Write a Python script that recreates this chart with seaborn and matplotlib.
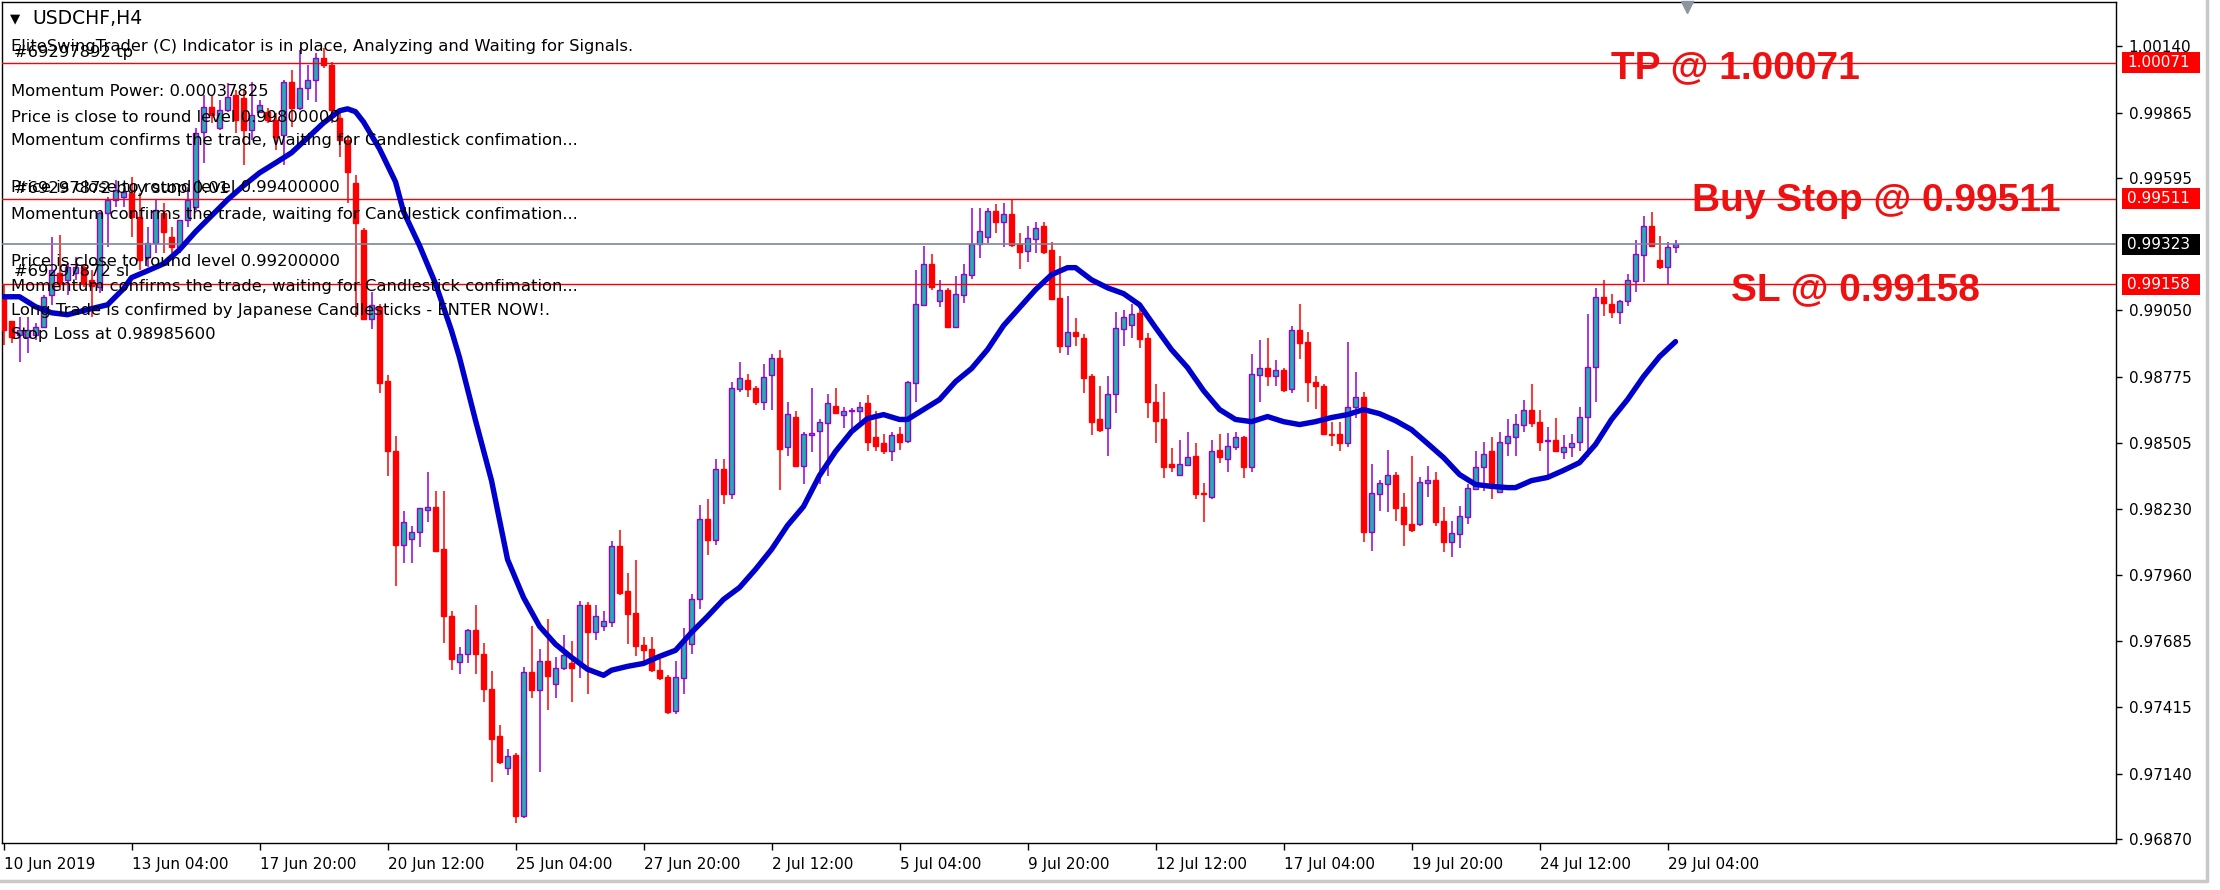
import numpy as np
import pandas as pd
import matplotlib
matplotlib.use("Agg")
import matplotlib.pyplot as plt
import matplotlib.transforms as mtransforms
from matplotlib.patches import Rectangle
from matplotlib.lines import Line2D
import seaborn as sns

# ---------------- data (USDCHF, H4) ----------------
opens = [0.99106,0.99004,0.98949,0.98941,0.98949,0.98983,0.99114,0.99206,0.99176,0.99206,
         0.99230,0.99176,0.99147,0.99453,0.99506,0.99518,0.99535,0.99436,0.99271,0.99329,
         0.99453,0.99353,0.99312,0.99424,0.99477,0.99786,0.99889,0.99803,0.99877,0.99938,
         0.99926,0.99794,0.99869,0.99869,0.99836,0.99774,0.99992,0.99885,0.99967,1.00000,
         1.00091,1.00062,0.99844,0.99753,0.99576,0.99382,0.99016,0.99063,0.98760,0.98468,
         0.98084,0.98109,0.98138,0.98225,0.98241,0.98064,0.97788,0.97599,0.97632,0.97733,
         0.97632,0.97487,0.97293,0.97162,0.97215,0.96966,0.97559,0.97483,0.97603,0.97508,
         0.97574,0.97596,0.97596,0.97833,0.97724,0.97748,0.97764,0.98080,0.97892,0.97800,
         0.97669,0.97652,0.97567,0.97537,0.97397,0.97533,0.97673,0.97858,0.98188,0.98105,
         0.98394,0.98291,0.98727,0.98764,0.98731,0.98670,0.98785,0.98855,0.98488,0.98612,
         0.98410,0.98538,0.98554,0.98587,0.98657,0.98620,0.98633,0.98633,0.98666,0.98526,
         0.98501,0.98468,0.98542,0.98513,0.98752,0.99073,0.99243,0.99090,0.99135,0.98983,
         0.99114,0.99197,0.99325,0.99353,0.99461,0.99415,0.99448,0.99325,0.99296,0.99345,
         0.99399,0.99300,0.99102,0.98904,0.98962,0.98937,0.98781,0.98600,0.98563,0.98703,
         0.98975,0.98991,0.99040,0.98937,0.98674,0.98600,0.98418,0.98373,0.98414,0.98451,
         0.98295,0.98282,0.98476,0.98439,0.98488,0.98526,0.98406,0.98785,0.98814,0.98781,
         0.98806,0.98727,0.98970,0.98921,0.98756,0.98740,0.98542,0.98542,0.98505,0.98653,
         0.98694,0.98134,0.98291,0.98332,0.98369,0.98237,0.98171,0.98167,0.98340,0.98352,
         0.98180,0.98093,0.98126,0.98196,0.98315,0.98406,0.98468,0.98299,0.98505,0.98526,
         0.98579,0.98641,0.98591,0.98513,0.98517,0.98464,0.98488,0.98509,0.98612,0.98818,
         0.99106,0.99078,0.99045,0.99090,0.99172,0.99279,0.99399,0.99259,0.99230,0.99312]

highs = [0.99155,0.99008,0.99024,0.99024,0.98999,0.99114,0.99353,0.99361,0.99246,0.99271,
         0.99239,0.99218,0.99457,0.99518,0.99588,0.99555,0.99601,0.99535,0.99395,0.99506,
         0.99494,0.99395,0.99424,0.99559,0.99803,0.99938,0.99938,0.99918,0.99988,0.99959,
         0.99959,0.99992,0.99918,0.99885,0.99865,1.00000,1.00042,1.00124,1.00062,1.00112,
         1.00132,1.00075,0.99877,0.99774,0.99609,0.99391,0.99127,0.99078,0.98782,0.98533,
         0.98221,0.98159,0.98233,0.98382,0.98303,0.98303,0.97809,0.97660,0.97734,0.97833,
         0.97677,0.97561,0.97339,0.97240,0.97224,0.97578,0.97748,0.97652,0.97776,0.97620,
         0.97710,0.97685,0.97850,0.97848,0.97833,0.97809,0.98097,0.98146,0.97965,0.98021,
         0.97703,0.97703,0.97612,0.97545,0.97604,0.97740,0.97879,0.98249,0.98270,0.98435,
         0.98435,0.98756,0.98838,0.98789,0.98740,0.98830,0.98872,0.98888,0.98674,0.98633,
         0.98550,0.98731,0.98600,0.98707,0.98731,0.98653,0.98649,0.98674,0.98699,0.98633,
         0.98542,0.98550,0.98567,0.98760,0.99218,0.99317,0.99283,0.99176,0.99143,0.99193,
         0.99243,0.99473,0.99473,0.99473,0.99490,0.99494,0.99506,0.99370,0.99399,0.99415,
         0.99415,0.99333,0.99275,0.99110,0.99020,0.98954,0.98789,0.98740,0.98781,0.99045,
         0.99053,0.99078,0.99057,0.98958,0.98748,0.98715,0.98484,0.98517,0.98550,0.98501,
         0.98336,0.98517,0.98542,0.98546,0.98550,0.98530,0.98872,0.98929,0.98937,0.98847,
         0.98814,0.98987,0.99078,0.98962,0.98781,0.98748,0.98591,0.98591,0.98921,0.98797,
         0.98715,0.98418,0.98352,0.98476,0.98385,0.98295,0.98451,0.98361,0.98410,0.98385,
         0.98237,0.98180,0.98245,0.98332,0.98468,0.98509,0.98526,0.98550,0.98600,0.98624,
         0.98682,0.98748,0.98641,0.98567,0.98608,0.98534,0.98542,0.98653,0.99036,0.99143,
         0.99176,0.99119,0.99094,0.99201,0.99341,0.99440,0.99457,0.99358,0.99333,0.99341]

lows = [0.98908,0.98917,0.98839,0.98876,0.98929,0.98979,0.99073,0.99135,0.99114,0.99176,
        0.99147,0.99024,0.99123,0.99312,0.99477,0.99477,0.99353,0.99218,0.99230,0.99288,
        0.99288,0.99288,0.99288,0.99395,0.99465,0.99659,0.99823,0.99794,0.99869,0.99782,
        0.99650,0.99753,0.99865,0.99823,0.99712,0.99650,0.99807,0.99877,0.99918,0.99910,
        1.00050,0.99823,0.99683,0.99494,0.99024,0.99012,0.98974,0.98711,0.98365,0.97915,
        0.98007,0.98007,0.98076,0.98176,0.98052,0.97677,0.97566,0.97549,0.97595,0.97549,
        0.97436,0.97104,0.97178,0.97135,0.96935,0.96956,0.97450,0.97147,0.97401,0.97452,
        0.97566,0.97434,0.97533,0.97467,0.97689,0.97727,0.97743,0.97875,0.97673,0.97623,
        0.97596,0.97557,0.97524,0.97384,0.97384,0.97467,0.97632,0.97817,0.98043,0.98084,
        0.98250,0.98270,0.98715,0.98694,0.98661,0.98641,0.98641,0.98311,0.98451,0.98402,
        0.98332,0.98464,0.98332,0.98365,0.98624,0.98563,0.98559,0.98587,0.98468,0.98468,
        0.98459,0.98427,0.98476,0.98505,0.98674,0.99069,0.99135,0.99065,0.98979,0.98979,
        0.99082,0.99181,0.99267,0.99329,0.99370,0.99312,0.99312,0.99222,0.99251,0.99288,
        0.99284,0.99094,0.98876,0.98867,0.98904,0.98711,0.98534,0.98550,0.98451,0.98628,
        0.98904,0.98937,0.98896,0.98608,0.98501,0.98357,0.98385,0.98369,0.98410,0.98274,
        0.98176,0.98274,0.98422,0.98382,0.98476,0.98357,0.98382,0.98674,0.98740,0.98740,
        0.98715,0.98711,0.98851,0.98670,0.98645,0.98534,0.98492,0.98468,0.98488,0.98604,
        0.98093,0.98056,0.98221,0.98217,0.98180,0.98080,0.98134,0.98159,0.98282,0.98159,
        0.98052,0.98031,0.98068,0.98167,0.98311,0.98303,0.98274,0.98295,0.98451,0.98451,
        0.98550,0.98571,0.98468,0.98365,0.98464,0.98439,0.98447,0.98468,0.98447,0.98670,
        0.99028,0.99020,0.98995,0.99069,0.99127,0.99168,0.99312,0.99222,0.99160,0.99288]

closes = [0.98970,0.98941,0.98970,0.98970,0.98983,0.99106,0.99218,0.99164,0.99230,0.99230,
          0.99164,0.99150,0.99453,0.99506,0.99547,0.99539,0.99436,0.99259,0.99329,0.99465,
          0.99374,0.99312,0.99424,0.99506,0.99782,0.99889,0.99856,0.99877,0.99930,0.99836,
          0.99794,0.99856,0.99898,0.99836,0.99765,0.99992,0.99885,0.99967,1.00000,1.00091,
          1.00062,0.99877,0.99753,0.99622,0.99412,0.99016,0.99073,0.98752,0.98470,0.98084,
          0.98176,0.98138,0.98233,0.98241,0.98058,0.97788,0.97611,0.97632,0.97733,0.97632,
          0.97487,0.97283,0.97187,0.97211,0.96964,0.97559,0.97483,0.97603,0.97541,0.97575,
          0.97627,0.97574,0.97833,0.97724,0.97788,0.97767,0.98080,0.97884,0.97796,0.97664,
          0.97648,0.97566,0.97533,0.97392,0.97537,0.97685,0.97858,0.98188,0.98105,0.98394,
          0.98291,0.98731,0.98773,0.98727,0.98670,0.98777,0.98855,0.98480,0.98624,0.98410,
          0.98542,0.98546,0.98591,0.98666,0.98628,0.98633,0.98641,0.98653,0.98509,0.98492,
          0.98468,0.98538,0.98509,0.98756,0.99078,0.99243,0.99148,0.99135,0.98983,0.99119,
          0.99201,0.99325,0.99378,0.99461,0.99415,0.99448,0.99321,0.99292,0.99349,0.99391,
          0.99292,0.99098,0.98904,0.98962,0.98946,0.98773,0.98591,0.98558,0.98707,0.98979,
          0.99024,0.99036,0.98933,0.98670,0.98595,0.98402,0.98402,0.98418,0.98447,0.98291,
          0.98291,0.98472,0.98447,0.98492,0.98526,0.98406,0.98789,0.98814,0.98781,0.98806,
          0.98723,0.98970,0.98917,0.98756,0.98736,0.98542,0.98538,0.98505,0.98653,0.98694,
          0.98134,0.98295,0.98336,0.98369,0.98233,0.98167,0.98146,0.98344,0.98352,0.98176,
          0.98093,0.98130,0.98200,0.98319,0.98406,0.98459,0.98340,0.98509,0.98530,0.98583,
          0.98641,0.98587,0.98509,0.98517,0.98468,0.98488,0.98505,0.98612,0.98818,0.99106,
          0.99082,0.99045,0.99090,0.99176,0.99284,0.99399,0.99316,0.99230,0.99312,0.99323]

# moving average (at sample bars)
ma_bars = [0, 2, 4, 6, 8, 10, 12, 13, 15, 16, 18, 20, 22, 24, 26, 28, 30, 32, 34, 36,
           38, 40, 42, 43, 44, 45, 47, 49, 50, 52, 54, 56, 57, 59, 61, 63, 65, 67, 69, 71,
           73, 75, 76, 78, 80, 82, 84, 86, 88, 90, 92, 94, 96, 98, 100, 102, 104, 106, 108, 110,
           112, 113, 115, 117, 119, 121, 123, 125, 127, 129, 131, 133, 134, 136, 138, 140, 142, 144, 146, 148,
           150, 152, 154, 156, 158, 160, 162, 164, 166, 168, 170, 172, 174, 176, 178, 180, 182, 184, 186, 188,
           189, 191, 193, 195, 197, 199, 201, 203, 205, 207, 209]
ma_values = [0.99106, 0.99106, 0.99065, 0.99040, 0.99032, 0.99049, 0.99065, 0.99073, 0.99139, 0.99185,
             0.99213, 0.99242, 0.99300, 0.99374, 0.99440, 0.99506, 0.99564, 0.99617, 0.99658, 0.99700,
             0.99761, 0.99823, 0.99873, 0.99881, 0.99869, 0.99827, 0.99716, 0.99580, 0.99457, 0.99317,
             0.99160, 0.98966, 0.98855, 0.98596, 0.98348, 0.98023, 0.97866, 0.97747, 0.97673, 0.97619,
             0.97570, 0.97545, 0.97566, 0.97582, 0.97594, 0.97623, 0.97648, 0.97722, 0.97788, 0.97858,
             0.97907, 0.97982, 0.98064, 0.98163, 0.98241, 0.98369, 0.98468, 0.98550, 0.98604, 0.98620,
             0.98600, 0.98600, 0.98641, 0.98682, 0.98756, 0.98810, 0.98888, 0.98987, 0.99061, 0.99135,
             0.99197, 0.99226, 0.99226, 0.99176, 0.99143, 0.99119, 0.99073, 0.98979, 0.98888, 0.98814,
             0.98719, 0.98641, 0.98600, 0.98591, 0.98612, 0.98591, 0.98579, 0.98591, 0.98608, 0.98620,
             0.98641, 0.98624, 0.98595, 0.98558, 0.98501, 0.98443, 0.98373, 0.98332, 0.98324, 0.98319,
             0.98319, 0.98348, 0.98361, 0.98390, 0.98422, 0.98497, 0.98600, 0.98682, 0.98777, 0.98859,
             0.98921]

tick_bars = [0, 16, 32, 48, 64, 80, 96, 112, 128, 144, 160, 176, 192, 208]
tick_labels = ["10 Jun 2019", "13 Jun 04:00", "17 Jun 20:00", "20 Jun 12:00", "25 Jun 04:00",
               "27 Jun 20:00", "2 Jul 12:00", "5 Jul 04:00", "9 Jul 20:00", "12 Jul 12:00",
               "17 Jul 04:00", "19 Jul 20:00", "24 Jul 12:00", "29 Jul 04:00"]
price_ticks = [1.00140, 0.99865, 0.99595, 0.99050, 0.98775, 0.98505, 0.98230,
               0.97960, 0.97685, 0.97415, 0.97140, 0.96870]
price_tick_labels = ["1.00140", "0.99865", "0.99595", "0.99050", "0.98775", "0.98505", "0.98230",
                     "0.97960", "0.97685", "0.97415", "0.97140", "0.96870"]

tp_level = 1.00071
buy_stop_level = 0.99511
sl_level = 0.99158
bid_level = 0.99323

info_lines = [
    "EliteSwingTrader (C) Indicator is in place, Analyzing and Waiting for Signals.",
    "Momentum Power: 0.00037825",
    "Price is close to round level 0.99800000",
    "Momentum confirms the trade, waiting for Candlestick confimation...",
    "Price is close to round level 0.99400000",
    "Momentum confirms the trade, waiting for Candlestick confimation...",
    "Price is close to round level 0.99200000",
    "Momentum confirms the trade, waiting for Candlestick confimation...",
    "Long Trade is confirmed by Japanese Candlesticks - ENTER NOW!.",
    "Stop Loss at 0.98985600",
]
order_labels = ["#69297892 tp", "#69297872 buy stop 0.01", "#69297872 sl"]

# ---------------- style ----------------
W, H = 2220, 890
sns.set_theme(style="white")
plt.rcParams["font.family"] = ["DejaVu Sans"]

RED = "#ff0000"
PURPLE = "#9400d3"
TEAL = "#20b2aa"
BLUE = "#0000cd"
GREY_LINE = "#778899"

fig = plt.figure(figsize=(W / 100, H / 100), dpi=100, facecolor="white")
ax = fig.add_axes([2 / W, (H - 843) / H, 2114 / W, 841 / H])
ax.set_facecolor("white")

df = pd.DataFrame({"open": opens, "high": highs, "low": lows, "close": closes})
df["bar"] = np.arange(len(df))
up = df["close"] >= df["open"]
dn = ~up
body_lo = np.minimum(df["open"], df["close"])
body_h = (df["close"] - df["open"]).abs()

# wicks
ax.vlines(df["bar"][up], df["low"][up], df["high"][up], color=PURPLE, lw=1.1, zorder=2)
ax.vlines(df["bar"][dn], df["low"][dn], df["high"][dn], color=RED, lw=1.1, zorder=2)
# bodies
ax.bar(df["bar"][up], body_h[up], bottom=body_lo[up], width=0.6, color=TEAL,
       edgecolor=PURPLE, linewidth=1.0, zorder=3)
ax.bar(df["bar"][dn], body_h[dn], bottom=body_lo[dn], width=0.6, color=RED,
       edgecolor=RED, linewidth=1.0, zorder=3)

# horizontal order / price lines
for lvl, col, lw in [(tp_level, RED, 1.0), (buy_stop_level, RED, 1.0), (sl_level, RED, 1.0),
                     (bid_level, GREY_LINE, 1.2)]:
    ax.axhline(lvl, color=col, lw=lw, zorder=4)

# moving average (seaborn)
ma_df = pd.DataFrame({"bar": ma_bars, "ma": ma_values})
sns.lineplot(data=ma_df, x="bar", y="ma", ax=ax, color=BLUE, linewidth=3.9,
             sort=False, zorder=5, legend=False)

ymin, ymax = 0.968535, 1.003215
ax.set_xlim(-0.19, 264.06)
ax.set_ylim(ymin, ymax)
ax.set_xlabel("")
ax.set_ylabel("")

# axes look
for s in ax.spines.values():
    s.set_color("black")
    s.set_linewidth(1.0)
    s.set_visible(True)
ax.yaxis.tick_right()
ax.set_yticks(price_ticks)
ax.set_yticklabels(price_tick_labels)
ax.set_xticks(tick_bars)
ax.set_xticklabels(tick_labels, ha="left")
ax.tick_params(axis="y", which="both", right=True, left=False, direction="out",
               length=4, width=1, color="black", pad=5, labelsize=11, labelcolor="black")
ax.tick_params(axis="x", which="both", bottom=True, direction="out",
               length=5, width=1, color="black", pad=5, labelsize=11, labelcolor="black")
ax.grid(False)

# price boxes on the right scale
px_per_price = 841 / (ymax - ymin)
box_h = 21 / px_per_price
trans_b = mtransforms.blended_transform_factory(ax.transAxes, ax.transData)
for lvl, col in [(tp_level, RED), (buy_stop_level, RED), (sl_level, RED), (bid_level, "black")]:
    ax.add_patch(Rectangle((1.00284, lvl - box_h / 2), 0.0369, box_h, transform=trans_b,
                           facecolor=col, edgecolor="none", clip_on=False, zorder=10))
    ax.text(1.0053, lvl, f"{lvl:.5f}", transform=trans_b, ha="left", va="center",
            color="white", fontsize=11, zorder=11, clip_on=False)

# big labels on the order lines
for lvl, txt, xfrac, off in [(tp_level, "TP @ 1.00071", 0.7611, -15),
                             (buy_stop_level, "Buy Stop @ 0.99511", 0.7994, -12),
                             (sl_level, "SL @ 0.99158", 0.8179, -16)]:
    tr = mtransforms.offset_copy(trans_b, fig=fig, x=0, y=off, units="dots")
    ax.text(xfrac, lvl, txt, transform=tr, ha="left", va="baseline", color="#ee1111",
            fontsize=28, fontweight="bold", family=["Liberation Sans", "DejaVu Sans"], zorder=8)


def ftext(x, y, s, **kw):
    fig.text(x / W, 1 - y / H, s, **kw)


# chart title
ftext(10, 19, "\u25bc", fontsize=9.5, va="center", ha="left", color="black")
ftext(32, 19, "USDCHF,H4", fontsize=13.5, va="center", ha="left", color="black")

# indicator comments
info_y = [46, 92, 117, 141, 188, 214, 261, 286, 310, 334]
for s, yy in zip(info_lines, info_y):
    ftext(11, yy, s, fontsize=11.8, va="center", ha="left", color="black", zorder=20)
for s, yy in zip(order_labels, [52, 188, 271]):
    ftext(14, yy, s, fontsize=11.8, va="center", ha="left", color="black", zorder=20)

# chart-shift marker
ax.plot([0.7973], [0.994], marker="v", markersize=9, color="#8a95a0", transform=ax.transAxes,
        clip_on=False, zorder=12)

# window border
fig.add_artist(Line2D([2207 / W, 2207 / W], [1 - 0 / H, 1 - 881 / H], transform=fig.transFigure,
                      color="#c8c8c8", lw=2.5))
fig.add_artist(Line2D([0, 2207 / W], [1 - 881 / H, 1 - 881 / H], transform=fig.transFigure,
                      color="#c8c8c8", lw=2.5))

fig.savefig("out.png", dpi=100, facecolor="white")
